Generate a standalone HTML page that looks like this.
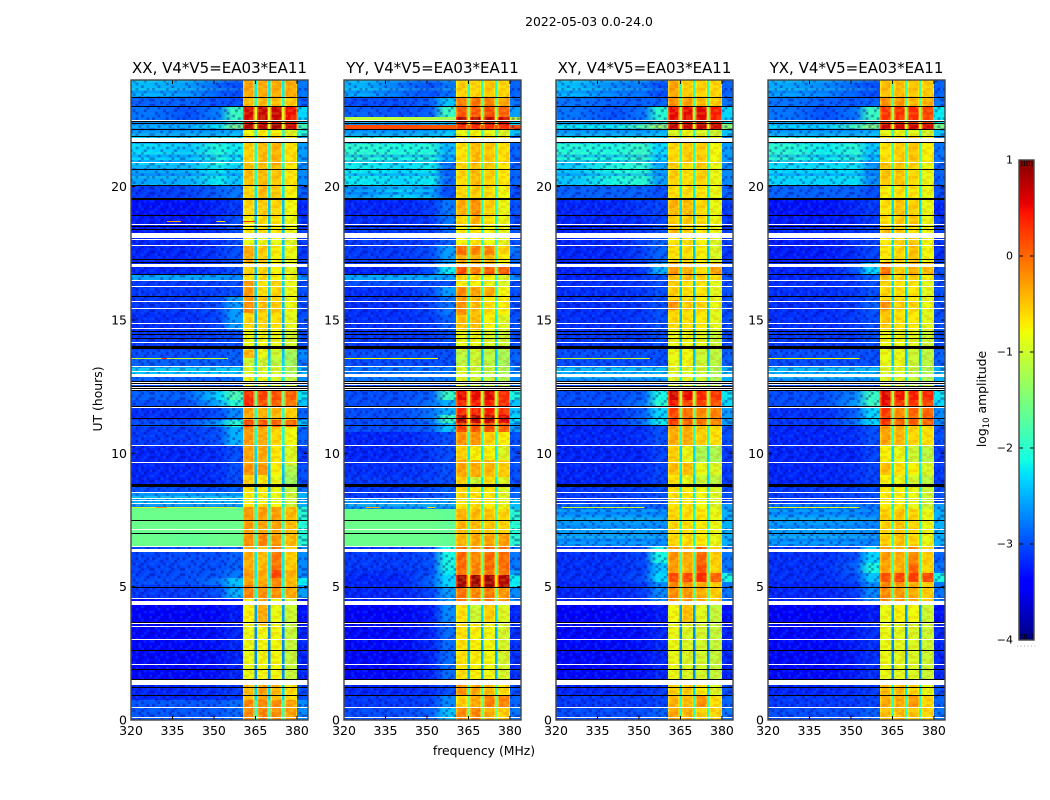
<!DOCTYPE html>
<html lang="en">
<head>
<meta charset="utf-8">
<title>2022-05-03 0.0-24.0</title>
<style>
html,body{margin:0;padding:0;background:#fff;}
body{width:1050px;height:800px;overflow:hidden;}
svg{display:block;}
text{font-family:"DejaVu Sans","Liberation Sans",sans-serif;fill:#000;}
</style>
</head>
<body>
<svg id="chart" xmlns="http://www.w3.org/2000/svg" width="1050" height="800" viewBox="0 0 1050 800">
<defs id="defs"></defs>
<text x="589" y="26" font-size="12.4" text-anchor="middle">2022-05-03 0.0-24.0</text>
<text x="0" y="0" font-size="12.4" text-anchor="middle" transform="translate(102,399) rotate(-90)">UT (hours)</text>
<text x="484" y="755" font-size="12.4" text-anchor="middle">frequency (MHz)</text>
<text x="0" y="0" font-size="12.4" text-anchor="middle" transform="translate(986,399) rotate(-90)">log<tspan font-size="8.5" dy="3">10</tspan><tspan dy="-3"> amplitude</tspan></text>
<g id="panels"></g>
<g id="colorbar"></g>
</svg>
<script>
const panelTitles = ["XX, V4*V5=EA03*EA11", "YY, V4*V5=EA03*EA11", "XY, V4*V5=EA03*EA11", "YX, V4*V5=EA03*EA11"];
const xTicks = [320, 335, 350, 365, 380];
const yTicks = [0, 5, 10, 15, 20];
const cbarTicks = [1, 0, -1, -2, -3, -4];

/* Row = [lower UT edge, level at 327, 341, 351, 358 MHz, band 1, band 2, band 3, band 4, gap, right edge] (log10 amplitude) */
const rowsXX = [
[23.32,-2.45,-2.6,-2.9,-3.0,-.45,-.5,-.5,-.5,-2.2,-2.8],
[23.02,-2.9,-2.9,-3.0,-3.0,-.6,-.6,-.65,-.7,-2.0,-2.9],
[22.43,-2.8,-3.0,-2.75,-1.9,.5,.55,.55,.35,-.9,-2.3],
[22.35,-2.7,-2.8,-2.6,-2.0,.4,.4,.4,.3,-1.0,-2.3],
[22.12,-2.5,-2.5,-2.2,-1.5,.65,.65,.7,.55,-1.0,-1.8],
[21.86,-2.6,-2.6,-2.6,-2.5,-.95,-.9,-.9,-1.1,-1.9,-2.0],
[20.81,-2.3,-2.4,-2.05,-2.2,-.7,-.6,-.55,-.8,-2.0,-2.6],
[20.02,-2.55,-2.5,-2.2,-2.4,-.6,-.6,-.65,-.85,-2.0,-2.7],
[19.54,-3.1,-3.05,-2.9,-2.8,-.75,-.6,-.7,-.9,-2.2,-2.9],
[18.92,-3.3,-3.3,-3.2,-3.1,-.75,-.7,-.75,-.95,-2.4,-3.2],
[18.26,-3.25,-3.25,-3.15,-3.0,-.9,-.8,-.85,-1.0,-2.4,-3.1],
[17.81,-3.2,-3.2,-3.15,-3.0,-1.0,-1.0,-1.0,-1.1,-2.4,-3.1],
[17.17,-3.2,-3.2,-3.1,-3.0,-.5,-.7,-.9,-1.0,-2.3,-3.1],
[16.72,-3.2,-3.2,-3.1,-3.0,-.7,-.75,-.9,-1.05,-2.4,-3.1],
[16.50,-2.55,-2.55,-2.6,-2.7,-.8,-.8,-.9,-1.0,-2.3,-2.7],
[15.90,-3.1,-3.1,-3.05,-3.0,-.4,-.8,-.75,-1.0,-2.3,-3.0],
[15.26,-3.1,-3.1,-3.0,-2.6,-.35,-.65,-.7,-1.0,-2.4,-3.0],
[14.62,-3.15,-3.15,-3.05,-2.6,-.75,-.75,-.8,-1.05,-2.5,-3.0],
[13.87,-3.1,-3.1,-3.05,-3.0,-1.0,-.95,-1.0,-1.15,-2.5,-3.0],
[13.57,-3.0,-3.0,-3.0,-2.9,-.55,-1.0,-1.2,-1.5,-2.4,-2.7],
[13.27,-2.9,-2.9,-2.9,-2.9,-1.2,-1.2,-1.3,-1.5,-2.3,-2.8],
[12.90,-2.4,-2.4,-2.4,-2.4,-1.1,-1.1,-1.15,-1.4,-2.2,-2.5],
[12.71,-2.9,-2.9,-2.9,-2.8,-1.0,-1.0,-1.1,-1.3,-2.2,-2.7],
[12.34,-3.0,-3.0,-3.0,-3.0,-1.0,-1.0,-1.1,-1.2,-2.2,-2.8],
[12.00,-2.9,-2.9,-2.3,-1.8,.2,.1,.0,-.1,-1.5,-2.2],
[11.70,-3.0,-3.0,-2.5,-2.0,.3,.0,-.1,-.2,-1.6,-2.4],
[11.25,-3.15,-3.15,-3.0,-2.7,-.45,-.55,-.55,-.7,-2.0,-2.9],
[10.99,-3.0,-3.0,-2.6,-2.0,.1,-.05,-.1,-.15,-1.7,-2.4],
[10.31,-3.1,-3.1,-3.0,-2.5,-.4,-.5,-.75,-.95,-2.1,-2.9],
[9.56,-3.2,-3.2,-3.15,-3.0,-.45,-.5,-.85,-1.1,-2.3,-3.1],
[9.19,-3.2,-3.2,-3.15,-3.0,-.35,-.35,-.9,-1.4,-2.4,-3.0],
[8.74,-3.2,-3.2,-3.15,-3.0,-.7,-.85,-1.0,-1.5,-2.5,-3.0],
[8.55,-3.0,-3.0,-3.0,-2.9,-.8,-.85,-1.0,-1.3,-2.4,-2.8],
[8.14,-2.5,-2.5,-2.5,-2.5,-.9,-.9,-1.0,-1.2,-2.2,-2.5],
[7.99,-2.7,-2.7,-2.7,-2.7,-.8,-.8,-.9,-1.2,-2.2,-2.5],
[7.01,-1.6,-1.6,-1.6,-1.6,-.4,-.45,-.45,-.6,-1.9,-2.0],
[6.49,-1.6,-1.65,-1.6,-1.6,-.35,-.3,-.4,-.6,-1.9,-2.0],
[5.62,-3.05,-3.0,-3.0,-2.9,-.5,-.6,-.2,-.7,-2.2,-2.7],
[5.32,-3.05,-3.0,-2.95,-2.8,-.4,-.5,.05,-.55,-2.2,-2.7],
[5.06,-3.0,-3.0,-2.8,-2.4,-.45,-.5,-.3,-.6,-2.1,-2.2],
[4.57,-3.1,-3.1,-3.0,-2.5,-.25,-.35,-.35,-.5,-2.1,-2.6],
[3.56,-3.4,-3.4,-3.35,-3.25,-.9,-.5,-1.0,-1.2,-2.6,-3.3],
[1.31,-3.35,-3.35,-3.3,-3.2,-1.0,-.95,-.95,-1.25,-2.7,-3.2],
[.75,-3.2,-3.2,-3.15,-3.1,-.6,-.45,-.6,-.8,-2.3,-3.0],
[0,-2.95,-2.95,-2.95,-2.85,-.3,-.3,-.35,-.45,-1.9,-2.7]
];
const rowsYY = [
[23.32,-2.5,-2.8,-3.0,-2.8,-.7,-.75,-.65,-.75,-2.0,-2.9],
[23.02,-3.0,-3.0,-2.9,-2.4,-.25,-.2,-.25,-.5,-1.7,-2.8],
[22.61,-2.9,-3.0,-2.9,-1.9,.0,-.05,.05,-.1,-1.4,-2.6],
[22.46,-1.1,-1.1,-1.2,-1.3,.7,.65,.65,.55,-1.0,-1.0],
[22.31,-2.5,-2.5,-2.4,-2.3,.6,.6,.55,.5,-1.2,-2.3],
[22.16,.15,.15,.1,.1,.2,.2,.2,.2,.1,.15],
[21.86,-2.6,-2.6,-2.55,-2.4,-1.0,-.95,-1.0,-1.1,-1.9,-2.4],
[20.92,-2.0,-2.1,-2.05,-2.5,-.8,-.6,-.65,-.8,-1.8,-2.9],
[20.02,-2.2,-2.3,-2.2,-2.9,-.75,-.6,-.7,-.85,-1.9,-2.9],
[19.54,-2.6,-2.3,-2.5,-3.0,-.75,-.7,-.8,-.95,-2.0,-3.0],
[18.94,-3.2,-3.2,-3.1,-2.8,-.5,-.35,-.7,-1.0,-2.0,-3.0],
[18.52,-3.15,-3.15,-3.1,-2.8,-.75,-.55,-.85,-1.0,-2.1,-3.0],
[17.81,-3.1,-3.1,-3.1,-2.9,-.9,-.85,-.95,-1.05,-2.1,-3.0],
[17.44,-3.1,-3.1,-3.0,-2.6,-.15,-.3,-.3,-.75,-1.8,-2.8],
[17.02,-3.1,-3.1,-3.0,-2.6,-.5,-.55,-.55,-.9,-1.9,-2.9],
[16.69,-3.2,-3.2,-3.0,-2.2,.05,-.25,-.05,-.1,-1.5,-3.0],
[16.46,-2.55,-2.55,-2.55,-2.6,-.7,-.85,-.9,-1.1,-2.0,-2.7],
[16.24,-3.0,-3.0,-3.0,-3.0,-.9,-.9,-1.0,-1.1,-2.2,-3.0],
[15.86,-3.15,-3.15,-3.0,-2.6,-.3,-.45,-.5,-.95,-2.0,-3.0],
[15.19,-3.15,-3.15,-3.05,-2.8,-.35,-.6,-.8,-.9,-2.1,-3.0],
[14.62,-3.15,-3.15,-3.1,-2.9,-.6,-.6,-.9,-1.1,-2.2,-3.0],
[13.87,-3.1,-3.1,-3.1,-3.0,-1.0,-1.0,-1.1,-1.2,-2.3,-3.0],
[13.24,-3.0,-3.0,-3.0,-3.0,-1.3,-1.2,-1.3,-1.45,-2.4,-2.9],
[12.71,-2.8,-2.8,-2.8,-2.8,-1.1,-1.2,-1.25,-1.4,-2.3,-2.7],
[12.34,-3.0,-3.0,-3.0,-3.0,-1.1,-1.2,-1.25,-1.3,-2.3,-2.8],
[12.00,-3.0,-3.0,-2.9,-1.9,.4,.4,.45,.2,-1.1,-2.1],
[11.44,-3.0,-3.0,-2.8,-2.5,.25,.3,.3,.2,-1.2,-2.4],
[11.14,-3.0,-3.0,-2.8,-1.9,.7,.65,.6,.45,-.8,-2.3],
[10.80,-3.0,-3.0,-2.9,-2.4,.1,.0,.0,-.1,-1.5,-2.6],
[10.31,-3.2,-3.2,-3.1,-3.0,-.35,-.35,-.7,-.9,-2.0,-3.0],
[9.75,-3.2,-3.2,-3.1,-3.0,-.7,-.9,-.9,-1.1,-2.2,-3.0],
[9.11,-3.15,-3.15,-3.1,-3.0,-.45,-.5,-.55,-.7,-1.8,-3.0],
[8.74,-3.1,-3.1,-3.05,-3.0,-.7,-1.2,-.8,-1.1,-2.2,-3.0],
[8.32,-3.1,-3.1,-3.0,-2.9,-.75,-.8,-.85,-1.1,-2.2,-2.9],
[7.91,-2.6,-2.6,-2.6,-2.6,-.8,-.8,-.85,-1.0,-2.0,-2.4],
[7.01,-1.6,-1.6,-1.6,-1.65,-.55,-.6,-.65,-.75,-1.8,-2.0],
[6.49,-1.6,-1.6,-1.6,-1.65,-.55,-.5,-.45,-.45,-1.8,-2.0],
[5.62,-3.1,-3.1,-3.0,-2.1,-.1,-.3,-.1,-.15,-1.6,-2.8],
[5.44,-3.15,-3.15,-3.0,-2.2,-.2,-.3,-.2,-.25,-1.6,-2.6],
[4.95,-3.2,-3.2,-2.9,-2.3,.75,.75,.75,.65,-.7,-2.2],
[4.31,-3.2,-3.2,-3.05,-2.6,-.15,-.3,-.2,-.4,-1.6,-2.7],
[3.67,-3.4,-3.4,-3.25,-2.7,-.8,-1.2,-.7,-1.1,-2.3,-3.2],
[1.31,-3.35,-3.35,-3.2,-2.85,-.8,-.9,-.95,-1.15,-2.5,-3.15],
[.90,-3.2,-3.2,-3.15,-3.0,-.35,-.5,-.6,-.8,-1.9,-3.0],
[.49,-3.1,-3.1,-3.05,-2.7,-.7,-.5,-.25,-.3,-1.6,-2.9],
[0,-3.0,-3.0,-2.9,-2.4,-.3,-.3,-.5,-.7,-1.6,-2.8]
];
const rowsXY = [
[23.32,-2.45,-2.7,-2.8,-3.0,-.45,-.7,-.7,-.75,-2.0,-2.9],
[23.02,-2.8,-2.9,-2.9,-2.9,-.35,-.45,-.6,-.7,-1.9,-2.8],
[22.46,-2.8,-3.0,-2.8,-2.0,.4,.4,.45,.3,-1.3,-2.3],
[22.35,-2.6,-2.7,-2.6,-2.0,.4,.4,.4,.3,-1.3,-2.2],
[22.16,-2.2,-2.2,-1.7,-1.3,.6,.6,.6,.55,-1.0,-1.4],
[21.86,-2.6,-2.6,-2.6,-2.5,-1.1,-1.0,-1.1,-1.2,-2.0,-2.4],
[20.88,-2.05,-2.1,-1.9,-2.3,-.75,-.7,-.7,-.95,-2.0,-2.6],
[20.02,-2.4,-2.1,-2.0,-2.6,-.7,-.8,-.7,-1.0,-2.0,-2.7],
[19.54,-2.9,-2.9,-2.9,-3.0,-.8,-.8,-.85,-1.0,-2.2,-2.9],
[18.90,-3.2,-3.2,-3.1,-3.05,-.55,-.6,-.75,-1.0,-2.3,-3.1],
[18.52,-3.2,-3.2,-3.15,-3.05,-.7,-.7,-.8,-1.0,-2.4,-3.1],
[18.26,-3.2,-3.2,-3.1,-3.0,-.6,-.75,-.85,-1.0,-2.4,-3.1],
[17.17,-3.2,-3.2,-3.05,-2.9,-.8,-.8,-.9,-1.1,-2.4,-3.1],
[16.69,-3.2,-3.2,-3.1,-2.5,-.35,-.55,-.75,-.45,-2.2,-3.0],
[16.46,-3.2,-3.2,-3.1,-3.0,-.6,-.6,-.7,-.8,-2.3,-3.0],
[15.75,-3.15,-3.15,-3.1,-3.0,-.7,-.8,-.85,-1.05,-2.4,-3.0],
[15.37,-3.15,-3.15,-3.1,-3.0,-.35,-.7,-.75,-1.0,-2.4,-3.0],
[14.62,-3.15,-3.15,-3.1,-3.0,-.75,-.8,-.85,-1.05,-2.5,-3.0],
[13.87,-3.1,-3.1,-3.1,-3.0,-1.0,-1.0,-1.05,-1.2,-2.5,-3.0],
[13.27,-3.0,-3.0,-3.0,-3.0,-1.0,-.95,-1.2,-1.3,-2.4,-2.9],
[12.90,-2.5,-2.5,-2.5,-2.5,-1.1,-1.1,-1.2,-1.4,-2.2,-2.5],
[12.71,-2.6,-2.6,-2.6,-2.6,-1.1,-1.1,-1.2,-1.4,-2.2,-2.5],
[12.34,-3.0,-3.0,-3.0,-3.0,-1.1,-1.1,-1.2,-1.3,-2.2,-2.8],
[12.00,-3.0,-3.0,-2.9,-2.1,.5,.4,.25,.15,-1.2,-2.2],
[11.77,-3.0,-3.0,-2.8,-2.0,.35,.1,.1,.0,-1.3,-2.3],
[11.29,-3.15,-3.15,-2.9,-2.3,.1,-.15,-.3,-.25,-1.6,-2.6],
[11.06,-3.1,-3.1,-2.8,-2.2,.15,-.1,-.2,-.3,-1.6,-2.6],
[10.31,-3.2,-3.2,-3.15,-3.0,-.5,-.5,-.7,-.8,-2.0,-3.0],
[9.67,-3.2,-3.2,-3.2,-3.05,-.7,-1.0,-1.4,-1.4,-2.3,-3.1],
[9.19,-3.2,-3.2,-3.15,-3.05,-.6,-.6,-1.0,-1.1,-2.2,-3.1],
[8.77,-3.2,-3.2,-3.15,-3.05,-.8,-1.0,-1.2,-1.3,-2.3,-3.1],
[8.14,-3.1,-3.1,-3.05,-3.0,-.8,-.85,-.95,-1.1,-2.2,-3.0],
[7.91,-2.9,-2.9,-2.9,-2.9,-.8,-.85,-.95,-1.1,-2.2,-2.6],
[6.49,-2.6,-2.6,-2.6,-2.65,-.75,-.8,-.85,-1.0,-2.1,-2.5],
[5.89,-3.15,-3.15,-3.05,-2.1,-.35,-.5,-.1,-.7,-1.9,-2.8],
[5.51,-3.15,-3.15,-3.05,-2.4,-.4,-.55,.0,-.75,-1.9,-2.8],
[5.17,-3.15,-3.15,-3.0,-2.3,.05,.05,.2,-.1,-1.5,-2.1],
[4.31,-3.2,-3.2,-3.1,-2.7,-.3,-.4,-.5,-.7,-1.8,-2.8],
[3.67,-3.4,-3.4,-3.35,-3.25,-.95,-.6,-1.05,-1.25,-2.6,-3.3],
[1.31,-3.35,-3.35,-3.3,-3.2,-1.0,-1.1,-1.15,-1.25,-2.7,-3.2],
[.94,-3.2,-3.2,-3.15,-3.1,-.7,-.7,-.85,-1.1,-2.3,-3.0],
[.45,-3.1,-3.1,-3.1,-3.05,-.55,-.6,-.35,-.8,-2.0,-2.9],
[0,-3.0,-3.0,-3.0,-2.9,-.45,-.55,-.7,-.75,-2.0,-2.8]
];
const rowsYX = [
[23.32,-2.55,-2.7,-2.9,-3.0,-.6,-.6,-.65,-.7,-1.9,-2.9],
[23.02,-2.8,-2.9,-2.95,-2.9,-.35,-.4,-.6,-.55,-1.8,-2.8],
[22.46,-2.8,-3.0,-2.8,-1.9,.15,.2,.2,.05,-1.3,-2.2],
[22.35,-2.6,-2.7,-2.6,-2.0,.2,.2,.2,.1,-1.3,-2.2],
[22.16,-2.3,-2.3,-1.8,-1.4,.55,.55,.55,.5,-1.0,-1.5],
[21.86,-2.6,-2.6,-2.6,-2.5,-1.0,-1.0,-1.05,-1.15,-2.0,-2.4],
[20.88,-2.0,-2.2,-2.0,-2.4,-.8,-.7,-.65,-.9,-1.9,-2.8],
[20.02,-2.3,-2.3,-2.25,-2.7,-.65,-.65,-.75,-1.0,-1.9,-2.9],
[19.54,-2.9,-2.9,-2.9,-3.0,-.9,-.8,-.85,-1.0,-2.1,-3.0],
[18.94,-3.3,-3.3,-3.2,-3.1,-.8,-.65,-.7,-1.0,-2.3,-3.2],
[18.52,-3.25,-3.25,-3.2,-3.1,-.8,-.7,-.7,-1.0,-2.3,-3.1],
[18.26,-3.2,-3.2,-3.15,-3.05,-.6,-.7,-.8,-1.0,-2.3,-3.1],
[17.17,-3.25,-3.25,-3.15,-3.05,-.85,-.75,-.65,-.95,-2.3,-3.15],
[16.69,-3.2,-3.2,-3.0,-2.3,-.15,-.7,-.5,-.6,-2.1,-3.0],
[16.46,-3.2,-3.2,-3.1,-2.9,-.6,-.75,-.7,-.9,-2.3,-3.0],
[15.75,-3.15,-3.15,-3.1,-3.0,-.75,-.8,-.85,-1.05,-2.3,-3.0],
[15.37,-3.15,-3.15,-3.1,-2.9,-.35,-.7,-.75,-1.0,-2.3,-3.0],
[14.62,-3.15,-3.15,-3.1,-3.0,-.65,-.8,-.85,-1.05,-2.4,-3.0],
[13.87,-3.1,-3.1,-3.1,-3.0,-1.0,-1.0,-1.05,-1.2,-2.4,-3.0],
[13.27,-3.0,-3.0,-3.0,-3.0,-1.0,-1.0,-1.2,-1.3,-2.4,-2.9],
[12.90,-2.5,-2.5,-2.5,-2.5,-1.1,-1.1,-1.25,-1.4,-2.2,-2.5],
[12.71,-2.6,-2.6,-2.6,-2.6,-1.1,-1.15,-1.25,-1.4,-2.2,-2.5],
[12.34,-3.0,-3.0,-3.0,-3.0,-1.1,-1.15,-1.25,-1.3,-2.2,-2.8],
[12.00,-3.0,-3.0,-2.7,-1.9,.45,.35,.3,.25,-1.2,-2.2],
[11.77,-3.0,-3.0,-2.6,-1.9,.4,.15,.15,.05,-1.3,-2.3],
[11.29,-3.15,-3.15,-2.9,-2.3,.15,-.3,-.1,-.1,-1.6,-2.7],
[11.06,-3.1,-3.1,-2.8,-2.3,.2,-.1,-.05,-.1,-1.6,-2.7],
[10.31,-3.2,-3.2,-3.15,-3.0,-.45,-.55,-.75,-.8,-2.0,-3.0],
[9.67,-3.2,-3.2,-3.2,-3.05,-.9,-1.0,-1.2,-1.3,-2.3,-3.1],
[9.19,-3.2,-3.2,-3.15,-3.05,-.6,-.8,-.9,-1.1,-2.2,-3.1],
[8.77,-3.2,-3.2,-3.15,-3.05,-.9,-1.0,-1.15,-1.3,-2.3,-3.1],
[8.14,-3.1,-3.1,-3.05,-3.0,-.85,-.9,-1.0,-1.2,-2.2,-3.0],
[7.91,-2.8,-2.8,-2.8,-2.8,-.85,-.9,-1.0,-1.2,-2.2,-2.6],
[6.49,-2.6,-2.6,-2.65,-2.7,-.7,-.65,-.75,-1.0,-2.0,-2.5],
[5.89,-3.15,-3.15,-3.0,-2.3,-.4,-.5,-.3,-.7,-1.9,-2.9],
[5.51,-3.15,-3.15,-2.9,-2.1,-.45,-.55,-.1,-.75,-1.9,-2.8],
[5.17,-3.15,-3.15,-3.0,-2.4,.0,.1,.1,.05,-1.5,-2.1],
[4.31,-3.2,-3.2,-3.1,-2.7,-.3,-.4,-.5,-.7,-1.8,-2.8],
[3.67,-3.4,-3.4,-3.35,-3.25,-1.0,-.9,-.95,-1.2,-2.6,-3.3],
[1.31,-3.35,-3.35,-3.25,-3.15,-1.0,-1.05,-1.1,-1.2,-2.7,-3.2],
[.94,-3.2,-3.2,-3.15,-3.1,-.6,-.6,-.75,-1.0,-2.2,-3.0],
[.45,-3.1,-3.1,-3.1,-3.05,-.5,-.5,-.4,-.75,-2.0,-2.9],
[0,-3.0,-3.0,-3.0,-2.9,-.6,-.6,-.65,-.75,-2.0,-2.8]
];

/* Interference lines = [UT, start MHz, end MHz, level] */
const rfiXX = [[18.72,333,338,-.3],[18.72,351,354,-.6],[18.72,360.5,365,.3],[13.57,320,355,-1.0],[13.57,331,333,.2],[12.95,320,355,-1.3],[8.0,320,358,-1.0],[8.0,329,333,-.3],[5.0,320,358,-1.0]];
const rfiYY = [[13.57,320,354,-.8],[12.95,320,356,-.4],[8.0,328,333,-.4],[8.0,350,353,-.7]];
const rfiXY = [[13.57,320,354,-1.0],[12.95,326,334,-.5],[8.0,322,352,-1.0],[5.0,320,358,-2.2]];
const rfiYX = [[13.57,320,353,-.8],[12.95,320,353,-.6],[8.0,320,353,-.9],[5.0,320,358,-2.2]];

/* Flagged scans = [centre UT, thickness in hours] */
const whiteFlags = [[22.47,.05],[21.75,.17],[20.9,.05],[20.02,.05],[18.59,.05],[18.16,.19],[18.0,.05],[17.8,.05],[17.25,.05],[17.03,.11],[16.47,.05],[16.26,.05],[15.7,.05],[15.44,.05],[14.87,.05],[14.66,.05],[14.16,.05],[13.25,.05],[13.08,.05],[12.92,.1],[12.65,.05],[12.56,.05],[12.47,.05],[12.38,.05],[11.7,.05],[10.3,.05],[9.66,.05],[8.54,.05],[8.29,.05],[8.21,.05],[8.13,.05],[7.15,.05],[6.5,.05],[6.35,.13],[4.56,.05],[4.4,.14],[3.6,.05],[3.5,.05],[3.03,.05],[2.09,.05],[1.4,.19],[.48,.05],[.1,.05]];
const blackFlags = [[23.33,.04],[23.02,.04],[22.43,.04],[22.35,.04],[22.12,.05],[21.87,.05],[21.66,.04],[20.66,.04],[20.06,.04],[19.52,.08],[18.91,.04],[18.5,.04],[18.4,.04],[17.25,.04],[17.15,.04],[16.72,.04],[15.87,.04],[14.56,.04],[14.44,.04],[14.31,.04],[13.95,.12],[12.7,.04],[12.6,.04],[12.51,.04],[12.42,.04],[12.34,.04],[11.77,.04],[11.29,.04],[11.06,.04],[8.77,.13],[7.47,.04],[7.0,.04],[4.97,.04],[3.66,.04],[2.59,.04],[1.91,.04],[1.5,.04],[1.2,.04],[.9,.04]];

const allRows = [rowsXX, rowsYY, rowsXY, rowsYX];
const allRfi = [rfiXX, rfiYY, rfiXY, rfiYX];

/* Layout */
const panelLefts = [131, 344, 556, 768];
const plotTop = 80, plotBottom = 720, plotWidth = 177;
const freqMin = 320, freqMax = 384, utMin = 0, utMax = 24;
const cbarLeft = 1019, cbarRight = 1034, cbarTop = 160, cbarBottom = 640;
const levelMin = -4, levelMax = 1;
const bandCalibration = .15;

const NS = "http://www.w3.org/2000/svg";
const defs = document.getElementById("defs");
const panelsLayer = document.getElementById("panels");
const cbarLayer = document.getElementById("colorbar");

function make(tag, attrs, parent) {
  const el = document.createElementNS(NS, tag);
  for (const k in attrs) el.setAttribute(k, attrs[k]);
  parent.appendChild(el);
  return el;
}
function seg(v, pts) {
  if (v <= pts[0][0]) return pts[0][1];
  for (let i = 1; i < pts.length; i++) {
    if (v <= pts[i][0]) {
      const a = pts[i - 1], b = pts[i];
      return a[1] + (b[1] - a[1]) * (v - a[0]) / (b[0] - a[0]);
    }
  }
  return pts[pts.length - 1][1];
}
function jet(level) {
  const v = Math.max(0, Math.min(1, (level - levelMin) / (levelMax - levelMin)));
  const r = seg(v, [[.35, 0], [.66, 1], [.89, 1], [1, .5]]);
  const g = seg(v, [[.125, 0], [.375, 1], [.64, 1], [.91, 0]]);
  const b = seg(v, [[0, .5], [.11, 1], [.34, 1], [.65, 0]]);
  return "rgb(" + Math.round(r * 255) + "," + Math.round(g * 255) + "," + Math.round(b * 255) + ")";
}
function xScale(left, f) { return left + (f - freqMin) / (freqMax - freqMin) * plotWidth; }
function yScale(t) { return plotBottom - (t - utMin) / (utMax - utMin) * (plotBottom - plotTop); }
function edgeLevel(v) { return v - .1 - Math.max(0, v + .8) * .3; }

/* Fine-grain speckle tiles */
const grainTile = [
  "10200120012",
  "02010002100",
  "20001201002",
  "00120010210",
  "12000201001",
  "00210010020",
  "10002100201",
  "02100002010",
  "00201200100",
  "21000100202",
  "00120021000"
];
const stripeTile = "102001200210";
const cellW = plotWidth / (freqMax - freqMin), cellH = (plotBottom - plotTop) / 240;
const grainPattern = make("pattern", {id: "grain", patternUnits: "userSpaceOnUse", width: cellW * 11, height: cellH * 11}, defs);
const bandPattern = make("pattern", {id: "bandgrain", patternUnits: "userSpaceOnUse", width: cellW * 11, height: cellH * 11}, defs);
const stripePattern = make("pattern", {id: "stripes", patternUnits: "userSpaceOnUse", width: 40, height: cellH * stripeTile.length}, defs);
grainTile.forEach((rowText, ry) => {
  rowText.split("").forEach((ch, rx) => {
    if (ch === "0") return;
    make("rect", {x: rx * cellW, y: ry * cellH, width: cellW, height: cellH,
      fill: ch === "1" ? "#000080" : "#1890ff", "fill-opacity": ch === "1" ? .38 : .2}, grainPattern);
    make("rect", {x: rx * cellW, y: ry * cellH, width: cellW * 2, height: cellH,
      fill: ch === "1" ? "#e03000" : "#ffff40", "fill-opacity": ch === "1" ? .14 : .16}, bandPattern);
  });
});
stripeTile.split("").forEach((ch, ry) => {
  if (ch === "0") return;
  make("rect", {x: 0, y: ry * cellH, width: 40, height: cellH,
    fill: ch === "1" ? "#0050ff" : "#50ffc0", "fill-opacity": ch === "1" ? .28 : .16}, stripePattern);
});

const bandZones = [[360.5, 364.6, 5], [365.5, 369.6, 6], [370.5, 374.6, 7], [375.5, 380, 8]];
const gapZones = [[364.6, 365.5], [369.6, 370.5], [374.6, 375.5]];
const gradStops = [[327, 1], [341, 2], [352, 3], [356.5, 4]];

panelTitles.forEach((title, p) => {
  const left = panelLefts[p];
  const g = make("g", {}, panelsLayer);
  
  

  const heat = make("g", {"shape-rendering": "crispEdges"}, g);
  
  

  let upper = utMax;
  allRows[p].forEach((row, r) => {
    const lower = row[0];
    const yTop = yScale(upper), h = yScale(lower) - yTop;
    const gradId = "g" + p + "-" + r;
    const grad = make("linearGradient", {id: gradId, gradientUnits: "userSpaceOnUse", x1: xScale(left, freqMin), x2: xScale(left, 360.5), y1: 0, y2: 0}, defs);
    gradStops.forEach(s => {
      make("stop", {offset: (s[0] - freqMin) / (360.5 - freqMin), "stop-color": jet(row[s[1]])}, grad);
    });
    const bgW = xScale(left, 360.5) - xScale(left, freqMin);
    const bg = make("rect", {x: xScale(left, freqMin), y: yTop, width: bgW, height: h, fill: "url(#" + gradId + ")"}, heat);
    
    
    if (row[1] < -1.7) {
      const sp = make("rect", {x: xScale(left, freqMin), y: yTop, width: bgW, height: h, fill: "url(#grain)"}, heat);
      
      
    }
    if (row[1] < -1.7 && row[1] > -2.75) {
      const st = make("rect", {x: xScale(left, freqMin), y: yTop, width: bgW, height: h, fill: "url(#stripes)"}, heat);
      
      
    }

    bandZones.forEach(z => {
      const v = row[z[2]] + bandCalibration;
      const sections = [[z[0], z[0] + .55, edgeLevel(v)], [z[0] + .55, z[1] - .4, v], [z[1] - .4, z[1], edgeLevel(v)]];
      sections.forEach(s => {
        const c = make("rect", {x: xScale(left, s[0]), y: yTop, width: xScale(left, s[1]) - xScale(left, s[0]), height: h, fill: jet(s[2])}, heat);
        
        
      });
    });
    gapZones.forEach(z => {
      const c = make("rect", {x: xScale(left, z[0]), y: yTop, width: xScale(left, z[1]) - xScale(left, z[0]), height: h, fill: jet(row[9])}, heat);
      
      
    });
    const rc = make("rect", {x: xScale(left, 380), y: yTop, width: xScale(left, freqMax) - xScale(left, 380), height: h, fill: jet(row[10])}, heat);
    
    
    const rs = make("rect", {x: xScale(left, 380), y: yTop, width: xScale(left, freqMax) - xScale(left, 380), height: h, fill: "url(#grain)"}, heat);
    
    
    upper = lower;
  });

  bandZones.forEach(z => {
    const tex = make("rect", {x: xScale(left, z[0]), y: plotTop, width: xScale(left, z[1]) - xScale(left, z[0]), height: plotBottom - plotTop, fill: "url(#bandgrain)"}, heat);
    
    
  });

  allRfi[p].forEach(line => {
    const y = Math.round(yScale(line[0]));
    const m = make("rect", {x: xScale(left, line[1]), y: y, width: xScale(left, line[2]) - xScale(left, line[1]), height: 1, fill: jet(line[3])}, heat);
    
    
  });

  whiteFlags.forEach(f => {
    const y = Math.round(yScale(f[0] + f[1] / 2)), h = Math.max(1, Math.round(yScale(f[0] - f[1] / 2) - yScale(f[0] + f[1] / 2)));
    const m = make("rect", {x: left, y: y, width: plotWidth, height: h, fill: "#fff"}, heat);
    
    
  });
  blackFlags.forEach(f => {
    const y = Math.round(yScale(f[0] + f[1] / 2)), h = Math.max(1, Math.round(yScale(f[0] - f[1] / 2) - yScale(f[0] + f[1] / 2)));
    const m = make("rect", {x: left, y: y, width: plotWidth, height: h, fill: "#000"}, heat);
    
    
  });

  /* Ticks and labels */
  xTicks.forEach(tick => {
    const x = xScale(left, tick);
    const t1 = make("line", {x1: x, x2: x, y1: plotBottom, y2: plotBottom - 4, stroke: "#000", "stroke-width": 1}, g);
    
    
    const t2 = make("line", {x1: x, x2: x, y1: plotTop, y2: plotTop + 4, stroke: "#000", "stroke-width": 1}, g);
    
    
    const lab = make("text", {x: x, y: 735, "font-size": 12.5, "text-anchor": "middle"}, g);
    
    
    lab.textContent = String(tick);
  });
  yTicks.forEach(tick => {
    const y = yScale(tick);
    const t1 = make("line", {x1: left, x2: left + 4, y1: y, y2: y, stroke: "#000", "stroke-width": 1}, g);
    
    
    const t2 = make("line", {x1: left + plotWidth, x2: left + plotWidth - 4, y1: y, y2: y, stroke: "#000", "stroke-width": 1}, g);
    
    
    const lab = make("text", {x: left - 4, y: y + 4.5, "font-size": 12.5, "text-anchor": "end"}, g);
    
    
    lab.textContent = String(tick);
  });

  const frame = make("rect", {x: left, y: plotTop, width: plotWidth, height: plotBottom - plotTop, fill: "none", stroke: "#444", "stroke-width": 1.4}, g);
  
  

  const tt = make("text", {x: left + plotWidth / 2, y: 73, "font-size": 15, "text-anchor": "middle"}, g);
  
  
  tt.textContent = title;
});

/* Colorbar */
const cbarY = level => cbarTop + (levelMax - level) / (levelMax - levelMin) * (cbarBottom - cbarTop);
const cbarGroup = make("g", {"shape-rendering": "crispEdges"}, cbarLayer);


for (let py = cbarTop; py < cbarBottom; py += 2) {
  const level = levelMax - (py + 1 - cbarTop) / (cbarBottom - cbarTop) * (levelMax - levelMin);
  const s = make("rect", {x: cbarLeft, y: py, width: cbarRight - cbarLeft, height: 2, fill: jet(level)}, cbarGroup);
  
  
}
cbarTicks.forEach(level => {
  const y = cbarY(level);
  const t1 = make("line", {x1: cbarLeft, x2: cbarLeft + 4, y1: y, y2: y, stroke: "#000", "stroke-width": 1}, cbarLayer);
  
  
  const t2 = make("line", {x1: cbarRight - 4, x2: cbarRight, y1: y, y2: y, stroke: "#000", "stroke-width": 1}, cbarLayer);
  
  
  const lab = make("text", {x: cbarLeft - 6, y: y + 3.5, "font-size": 11, "text-anchor": "end", fill: "#111"}, cbarLayer);
  
  
  lab.textContent = level < 0 ? "\u2212" + Math.abs(level) : String(level);
});
[cbarLeft + 3, cbarLeft + 5.5, cbarLeft + 8, cbarLeft + 10.5, cbarLeft + 13].forEach(x => {
  const a = make("line", {x1: x, x2: x, y1: cbarTop, y2: cbarTop + 6, stroke: "#000", "stroke-width": .8}, cbarLayer);
  
  
  const b = make("line", {x1: x, x2: x, y1: cbarBottom - 6, y2: cbarBottom, stroke: "#000", "stroke-width": .8}, cbarLayer);
  
  
});
const cbarFrame = make("rect", {x: cbarLeft, y: cbarTop, width: cbarRight - cbarLeft, height: cbarBottom - cbarTop, fill: "none", stroke: "#444", "stroke-width": 1.4}, cbarLayer);


const cbarDots = make("line", {x1: 1017, x2: 1036, y1: 646, y2: 646, stroke: "#aaa", "stroke-width": 1, "stroke-dasharray": "1 2.5"}, cbarLayer);


</script>
</body>
</html>
